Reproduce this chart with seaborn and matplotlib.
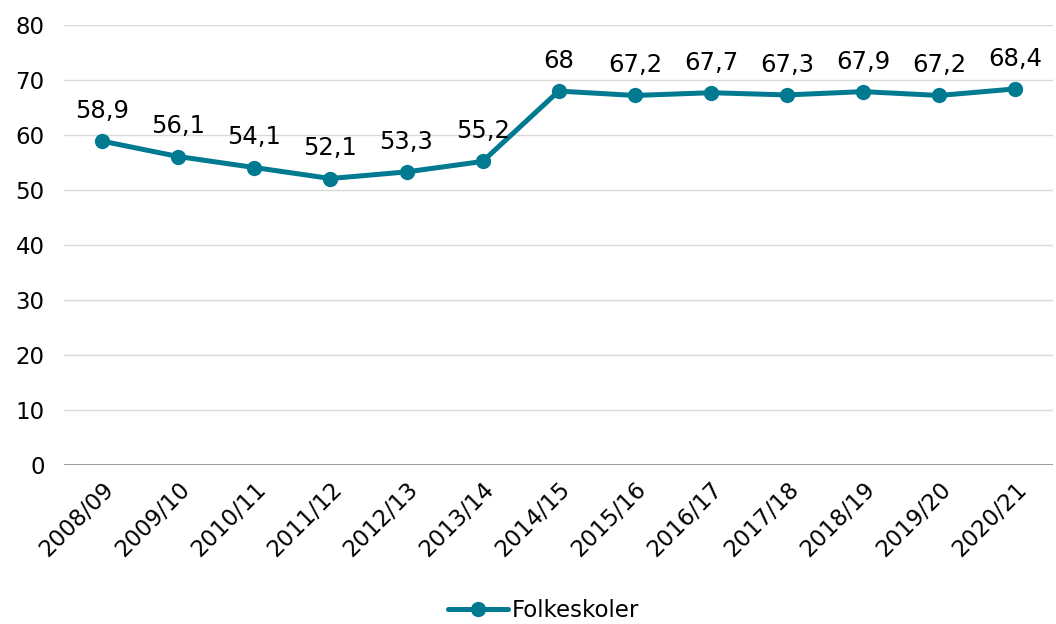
import pandas as pd
import seaborn as sns
import matplotlib.pyplot as plt

# Data
years = ['2008/09', '2009/10', '2010/11', '2011/12', '2012/13', '2013/14', '2014/15',
         '2015/16', '2016/17', '2017/18', '2018/19', '2019/20', '2020/21']
folkeskoler = [58.9, 56.1, 54.1, 52.1, 53.3, 55.2, 68, 67.2, 67.7, 67.3, 67.9, 67.2, 68.4]

df = pd.DataFrame({'year': years, 'value': folkeskoler, 'serie': 'Folkeskoler'})

sns.set_style('white')
plt.rcParams['font.family'] = ['DejaVu Sans']
color = '#007A91'

fig = plt.figure(figsize=(10.56, 6.24), dpi=100)
ax = fig.add_axes([0.0606, 0.2548, 0.937, 0.705])

sns.lineplot(data=df, x='year', y='value', hue='serie', palette=[color], marker='o',
             markersize=11, markeredgewidth=0, linewidth=3.6, sort=False, ax=ax)

# Data labels
for i, v in enumerate(folkeskoler):
    label = ('%g' % v).replace('.', ',')
    ax.annotate(label, (i, v), xytext=(0, 13), textcoords='offset points',
                ha='center', va='bottom', fontsize=17.5, color='black')

ax.set_ylim(0, 80)
ax.set_yticks(range(0, 81, 10))
ax.set_xlim(-0.5, len(years) - 0.5)
ax.yaxis.grid(True, color='#D9D9D9', linewidth=1)
ax.set_axisbelow(True)
ax.axhline(0, color='#8C8C8C', linewidth=1.2)
for s in ax.spines.values():
    s.set_visible(False)
ax.set_xlabel('')
ax.set_ylabel('')
ax.tick_params(axis='both', length=0, labelsize=16.5, labelcolor='black', pad=9)
ax.tick_params(axis='y', pad=14)
plt.setp(ax.get_xticklabels(), rotation=45, ha='right', rotation_mode='anchor')

ax.get_legend().remove()
fig.legend(*ax.get_legend_handles_labels(), loc='center', bbox_to_anchor=(0.515, 0.022),
           frameon=False, fontsize=16.5, handlelength=2.6, handletextpad=0.2,
           labelcolor='black')

fig.savefig('out.png', dpi=100)
